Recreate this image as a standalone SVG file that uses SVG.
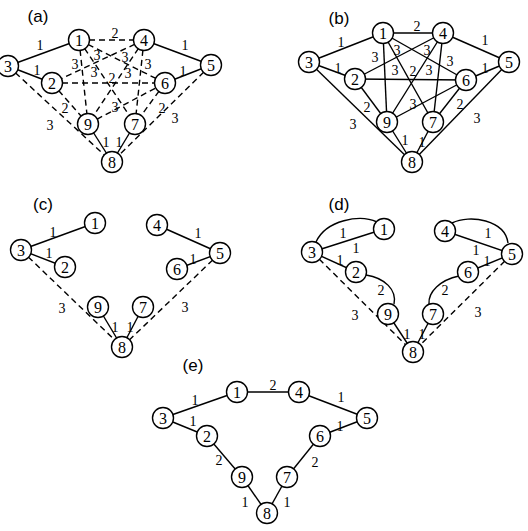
<svg xmlns="http://www.w3.org/2000/svg" width="528" height="531" viewBox="0 0 528 531">
<style>
.e{stroke:#000;stroke-width:1.4;fill:none}
.d{stroke:#000;stroke-width:1.4;fill:none;stroke-dasharray:6 4}
.n circle{fill:#fff;stroke:#000;stroke-width:1.4}
.n text{font-family:"Liberation Serif",serif;font-size:16px;text-anchor:middle}
.w{font-family:"Liberation Serif",serif;font-size:14px;text-anchor:middle}
.p{font-family:"Liberation Sans",Arial,sans-serif;font-size:17px;text-anchor:middle}
</style>
<rect width="528" height="531" fill="#fff"/>
<!-- panel labels -->
<text class="p" x="38" y="22">(a)</text>
<text class="p" x="339" y="24">(b)</text>
<text class="p" x="43" y="210">(c)</text>
<text class="p" x="339" y="210">(d)</text>
<text class="p" x="193" y="371">(e)</text>

<g id="connectors">
<!-- (a) -->
<g id="conn-a">
<line class="e" x1="8" y1="66" x2="79" y2="40"/>
<line class="e" x1="8" y1="66" x2="52" y2="83"/>
<line class="e" x1="144" y1="40" x2="211" y2="65"/>
<line class="e" x1="165" y1="83" x2="211" y2="65"/>
<line class="e" x1="88" y1="124" x2="112" y2="162"/>
<line class="e" x1="135" y1="124" x2="112" y2="162"/>
<line class="d" x1="79" y1="40" x2="144" y2="40"/>
<line class="d" x1="8" y1="66" x2="112" y2="162"/>
<line class="d" x1="211" y1="65" x2="112" y2="162"/>
<line class="d" x1="52" y1="83" x2="88" y2="124"/>
<line class="d" x1="165" y1="83" x2="135" y2="124"/>
<line class="d" x1="79" y1="40" x2="88" y2="124"/>
<line class="d" x1="79" y1="40" x2="135" y2="124"/>
<line class="d" x1="79" y1="40" x2="165" y2="83"/>
<line class="d" x1="144" y1="40" x2="52" y2="83"/>
<line class="d" x1="144" y1="40" x2="88" y2="124"/>
<line class="d" x1="144" y1="40" x2="135" y2="124"/>
<line class="d" x1="52" y1="83" x2="165" y2="83"/>
<line class="d" x1="88" y1="124" x2="165" y2="83"/>
</g>
<!-- (b) -->
<g id="conn-b">
<line class="e" x1="309" y1="62" x2="383" y2="33"/>
<line class="e" x1="309" y1="62" x2="355" y2="79"/>
<line class="e" x1="443" y1="33" x2="509" y2="62"/>
<line class="e" x1="466" y1="80" x2="509" y2="62"/>
<line class="e" x1="387" y1="122" x2="412" y2="162"/>
<line class="e" x1="433" y1="122" x2="412" y2="162"/>
<line class="e" x1="383" y1="33" x2="443" y2="33"/>
<line class="e" x1="309" y1="62" x2="412" y2="162"/>
<line class="e" x1="509" y1="62" x2="412" y2="162"/>
<line class="e" x1="355" y1="79" x2="387" y2="122"/>
<line class="e" x1="466" y1="80" x2="433" y2="122"/>
<line class="e" x1="383" y1="33" x2="387" y2="122"/>
<line class="e" x1="383" y1="33" x2="433" y2="122"/>
<line class="e" x1="383" y1="33" x2="466" y2="80"/>
<line class="e" x1="443" y1="33" x2="355" y2="79"/>
<line class="e" x1="443" y1="33" x2="387" y2="122"/>
<line class="e" x1="443" y1="33" x2="433" y2="122"/>
<line class="e" x1="355" y1="79" x2="466" y2="80"/>
<line class="e" x1="387" y1="122" x2="466" y2="80"/>
</g>
<!-- (c) -->
<g id="conn-c">
<line class="e" x1="21" y1="250" x2="95" y2="223"/>
<line class="e" x1="21" y1="250" x2="65" y2="267"/>
<line class="e" x1="157" y1="225" x2="220" y2="253"/>
<line class="e" x1="177" y1="269" x2="220" y2="253"/>
<line class="e" x1="98" y1="307" x2="122" y2="347"/>
<line class="e" x1="143" y1="307" x2="122" y2="347"/>
<line class="d" x1="21" y1="250" x2="122" y2="347"/>
<line class="d" x1="220" y1="253" x2="122" y2="347"/>
</g>
<!-- (d) -->
<g id="conn-d">
<line class="e" x1="312" y1="252" x2="384" y2="229"/>
<line class="e" x1="312" y1="252" x2="356" y2="272"/>
<line class="e" x1="445" y1="231" x2="512" y2="254"/>
<line class="e" x1="468" y1="272" x2="512" y2="254"/>
<line class="e" x1="388" y1="314" x2="413" y2="352"/>
<line class="e" x1="433" y1="314" x2="413" y2="352"/>
<line class="d" x1="312" y1="252" x2="413" y2="352"/>
<line class="d" x1="512" y1="254" x2="413" y2="352"/>
<path class="e" d="M316,242 C326,220 360,214 377,222"/>
<path class="e" d="M452,223 C470,214 505,220 508,243"/>
<path class="e" d="M366,275 C385,278 397,290 394,304"/>
<path class="e" d="M459,276 C440,280 428,292 429,304"/>
</g>
<!-- (e) -->
<g id="conn-e">
<line class="e" x1="163" y1="418" x2="237" y2="392"/>
<line class="e" x1="237" y1="392" x2="299" y2="392"/>
<line class="e" x1="299" y1="392" x2="367" y2="418"/>
<line class="e" x1="163" y1="418" x2="207" y2="436"/>
<line class="e" x1="320" y1="436" x2="367" y2="418"/>
<line class="e" x1="207" y1="436" x2="242" y2="477"/>
<line class="e" x1="320" y1="436" x2="287" y2="477"/>
<line class="e" x1="242" y1="477" x2="267" y2="513"/>
<line class="e" x1="287" y1="477" x2="267" y2="513"/>
</g>
</g>

<g id="weights">
<!-- (a) -->
<text class="w" x="40" y="50">1</text>
<text class="w" x="115" y="38">2</text>
<text class="w" x="185" y="50">1</text>
<text class="w" x="37" y="75">1</text>
<text class="w" x="183" y="76">1</text>
<text class="w" x="75" y="69">3</text>
<text class="w" x="97" y="60">3</text>
<text class="w" x="125" y="62">3</text>
<text class="w" x="148" y="69">3</text>
<text class="w" x="94" y="77">3</text>
<text class="w" x="112" y="83">2</text>
<text class="w" x="128" y="78">3</text>
<text class="w" x="65" y="113">2</text>
<text class="w" x="115" y="112">3</text>
<text class="w" x="162" y="113">2</text>
<text class="w" x="50" y="130">3</text>
<text class="w" x="175" y="123">3</text>
<text class="w" x="106" y="147">1</text>
<text class="w" x="119" y="147">1</text>
<!-- (b) -->
<text class="w" x="341" y="47">1</text>
<text class="w" x="417" y="31">2</text>
<text class="w" x="485" y="45">1</text>
<text class="w" x="338" y="73">1</text>
<text class="w" x="485" y="73">1</text>
<text class="w" x="375" y="62">3</text>
<text class="w" x="397" y="55">3</text>
<text class="w" x="427" y="55">3</text>
<text class="w" x="450" y="66">3</text>
<text class="w" x="395" y="75">3</text>
<text class="w" x="413" y="76">2</text>
<text class="w" x="429" y="75">3</text>
<text class="w" x="367" y="112">2</text>
<text class="w" x="413" y="109">3</text>
<text class="w" x="460" y="109">2</text>
<text class="w" x="353" y="129">3</text>
<text class="w" x="477" y="123">3</text>
<text class="w" x="405" y="145">1</text>
<text class="w" x="422" y="147">1</text>
<!-- (c) -->
<text class="w" x="53" y="237">1</text>
<text class="w" x="49" y="258">1</text>
<text class="w" x="198" y="238">1</text>
<text class="w" x="193" y="264">1</text>
<text class="w" x="62" y="313">3</text>
<text class="w" x="185" y="312">3</text>
<text class="w" x="115" y="332">1</text>
<text class="w" x="130" y="332">1</text>
<!-- (d) -->
<text class="w" x="343" y="238">1</text>
<text class="w" x="356" y="253">1</text>
<text class="w" x="340" y="265">1</text>
<text class="w" x="381" y="295">2</text>
<text class="w" x="355" y="320">3</text>
<text class="w" x="407" y="339">1</text>
<text class="w" x="422" y="339">1</text>
<text class="w" x="488" y="238">1</text>
<text class="w" x="476" y="255">1</text>
<text class="w" x="487" y="266">1</text>
<text class="w" x="445" y="295">2</text>
<text class="w" x="478" y="317">3</text>
<!-- (e) -->
<text class="w" x="195" y="405">1</text>
<text class="w" x="273" y="390">2</text>
<text class="w" x="341" y="402">1</text>
<text class="w" x="193" y="426">1</text>
<text class="w" x="340" y="431">1</text>
<text class="w" x="219" y="465">2</text>
<text class="w" x="315" y="467">2</text>
<text class="w" x="245" y="507">1</text>
<text class="w" x="287" y="507">1</text>
</g>

<!-- nodes (a) -->
<g id="a1" class="n"><circle cx="79" cy="40" r="10.5"/><text x="79" y="45.5">1</text></g>
<g id="a4" class="n"><circle cx="144" cy="40" r="10.5"/><text x="144" y="45.5">4</text></g>
<g id="a3" class="n"><circle cx="8" cy="66" r="10.5"/><text x="8" y="71.5">3</text></g>
<g id="a5" class="n"><circle cx="211" cy="65" r="10.5"/><text x="211" y="70.5">5</text></g>
<g id="a2" class="n"><circle cx="52" cy="83" r="10.5"/><text x="52" y="88.5">2</text></g>
<g id="a6" class="n"><circle cx="165" cy="83" r="10.5"/><text x="165" y="88.5">6</text></g>
<g id="a9" class="n"><circle cx="88" cy="124" r="10.5"/><text x="88" y="129.5">9</text></g>
<g id="a7" class="n"><circle cx="135" cy="124" r="10.5"/><text x="135" y="129.5">7</text></g>
<g id="a8" class="n"><circle cx="112" cy="162" r="10.5"/><text x="112" y="167.5">8</text></g>
<!-- nodes (b) -->
<g id="b1" class="n"><circle cx="383" cy="33" r="10.5"/><text x="383" y="38.5">1</text></g>
<g id="b4" class="n"><circle cx="443" cy="33" r="10.5"/><text x="443" y="38.5">4</text></g>
<g id="b3" class="n"><circle cx="309" cy="62" r="10.5"/><text x="309" y="67.5">3</text></g>
<g id="b5" class="n"><circle cx="509" cy="62" r="10.5"/><text x="509" y="67.5">5</text></g>
<g id="b2" class="n"><circle cx="355" cy="79" r="10.5"/><text x="355" y="84.5">2</text></g>
<g id="b6" class="n"><circle cx="466" cy="80" r="10.5"/><text x="466" y="85.5">6</text></g>
<g id="b9" class="n"><circle cx="387" cy="122" r="10.5"/><text x="387" y="127.5">9</text></g>
<g id="b7" class="n"><circle cx="433" cy="122" r="10.5"/><text x="433" y="127.5">7</text></g>
<g id="b8" class="n"><circle cx="412" cy="162" r="10.5"/><text x="412" y="167.5">8</text></g>
<!-- nodes (c) -->
<g id="c1" class="n"><circle cx="95" cy="223" r="10.5"/><text x="95" y="228.5">1</text></g>
<g id="c4" class="n"><circle cx="157" cy="225" r="10.5"/><text x="157" y="230.5">4</text></g>
<g id="c3" class="n"><circle cx="21" cy="250" r="10.5"/><text x="21" y="255.5">3</text></g>
<g id="c5" class="n"><circle cx="220" cy="253" r="10.5"/><text x="220" y="258.5">5</text></g>
<g id="c2" class="n"><circle cx="65" cy="267" r="10.5"/><text x="65" y="272.5">2</text></g>
<g id="c6" class="n"><circle cx="177" cy="269" r="10.5"/><text x="177" y="274.5">6</text></g>
<g id="c9" class="n"><circle cx="98" cy="307" r="10.5"/><text x="98" y="312.5">9</text></g>
<g id="c7" class="n"><circle cx="143" cy="307" r="10.5"/><text x="143" y="312.5">7</text></g>
<g id="c8" class="n"><circle cx="122" cy="347" r="10.5"/><text x="122" y="352.5">8</text></g>
<!-- nodes (d) -->
<g id="d1" class="n"><circle cx="384" cy="229" r="10.5"/><text x="384" y="234.5">1</text></g>
<g id="d4" class="n"><circle cx="445" cy="231" r="10.5"/><text x="445" y="236.5">4</text></g>
<g id="d3" class="n"><circle cx="312" cy="252" r="10.5"/><text x="312" y="257.5">3</text></g>
<g id="d5" class="n"><circle cx="512" cy="254" r="10.5"/><text x="512" y="259.5">5</text></g>
<g id="d2" class="n"><circle cx="356" cy="272" r="10.5"/><text x="356" y="277.5">2</text></g>
<g id="d6" class="n"><circle cx="468" cy="272" r="10.5"/><text x="468" y="277.5">6</text></g>
<g id="d9" class="n"><circle cx="388" cy="314" r="10.5"/><text x="388" y="319.5">9</text></g>
<g id="d7" class="n"><circle cx="433" cy="314" r="10.5"/><text x="433" y="319.5">7</text></g>
<g id="d8" class="n"><circle cx="413" cy="352" r="10.5"/><text x="413" y="357.5">8</text></g>
<!-- nodes (e) -->
<g id="e1" class="n"><circle cx="237" cy="392" r="10.5"/><text x="237" y="397.5">1</text></g>
<g id="e4" class="n"><circle cx="299" cy="392" r="10.5"/><text x="299" y="397.5">4</text></g>
<g id="e3" class="n"><circle cx="163" cy="418" r="10.5"/><text x="163" y="423.5">3</text></g>
<g id="e5" class="n"><circle cx="367" cy="418" r="10.5"/><text x="367" y="423.5">5</text></g>
<g id="e2" class="n"><circle cx="207" cy="436" r="10.5"/><text x="207" y="441.5">2</text></g>
<g id="e6" class="n"><circle cx="320" cy="436" r="10.5"/><text x="320" y="441.5">6</text></g>
<g id="e9" class="n"><circle cx="242" cy="477" r="10.5"/><text x="242" y="482.5">9</text></g>
<g id="e7" class="n"><circle cx="287" cy="477" r="10.5"/><text x="287" y="482.5">7</text></g>
<g id="e8" class="n"><circle cx="267" cy="513" r="10.5"/><text x="267" y="518.5">8</text></g>
</svg>
